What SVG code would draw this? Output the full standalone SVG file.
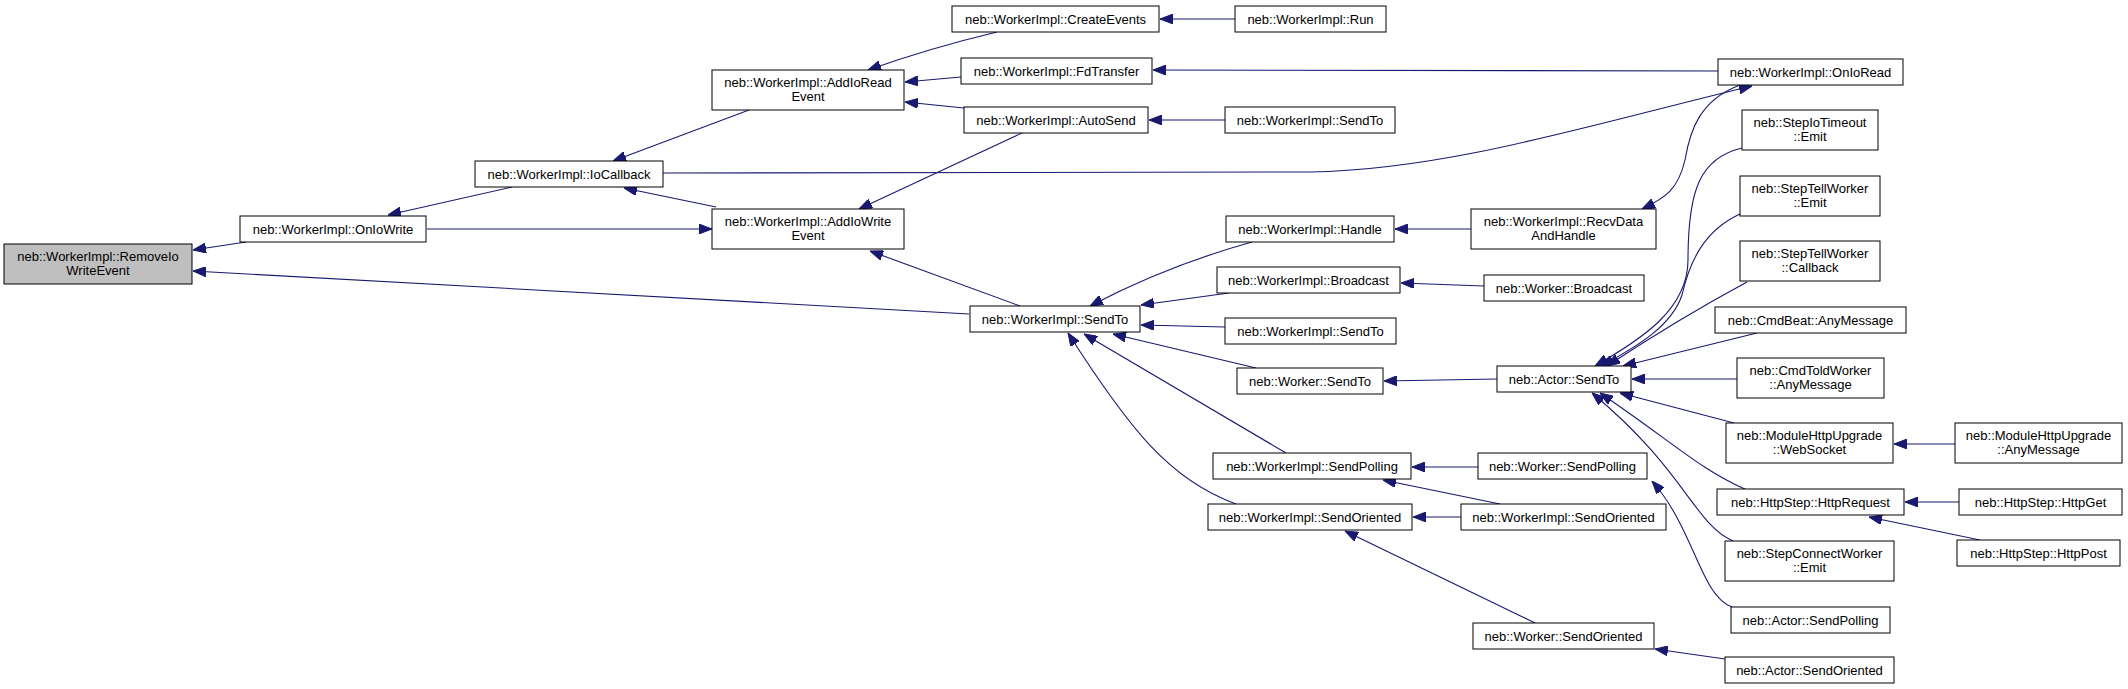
<svg xmlns="http://www.w3.org/2000/svg" width="2128" height="689" viewBox="0 0 2128 689">
<style>
rect{fill:#fff;stroke:#000;stroke-width:1}
.root rect{fill:#bfbfbf}
text{font-family:"Liberation Sans",Arial,sans-serif;font-size:13px;text-anchor:middle;fill:#000}
#edges path{fill:none;stroke:#191970;stroke-width:1.1;marker-end:url(#ah)}
</style>
<defs>
<marker id="ah" markerUnits="userSpaceOnUse" viewBox="0 0 13 10" refX="13" refY="5" markerWidth="13" markerHeight="10" orient="auto"><path d="M0,0 L13,5 L0,10 z" fill="#191970" stroke="#191970"/></marker>
</defs>
<g id="edges">
<path d="M246,242 L193,250"/>
<path d="M512,187 L388,215"/>
<path d="M716,207 L624,188"/>
<path d="M427,229 L712,229"/>
<path d="M749,110 L613,161"/>
<path d="M997,32 Q930,48 868,70"/>
<path d="M1235,19 L1160,19"/>
<path d="M961,77 L905,82"/>
<path d="M964,108 L905,102"/>
<path d="M1225,120 L1149,120"/>
<path d="M1718,71 L1153,70"/>
<path d="M1024,132 L859,209"/>
<path d="M663,173 L1310,172 C1450,170 1600,122 1752,86"/>
<path d="M1740,85 C1700,100 1690,130 1685,160 C1678,190 1665,198 1642,209"/>
<path d="M969,314 L193,271"/>
<path d="M1020,306 L870,251"/>
<path d="M1252,242 C1180,262 1130,285 1090,306"/>
<path d="M1229,293 L1141,305"/>
<path d="M1225,327 L1141,325"/>
<path d="M1256,368 L1113,334"/>
<path d="M1286,453 L1084,334"/>
<path d="M1236,504 C1170,480 1130,430 1068,333"/>
<path d="M1535,623 L1345,531"/>
<path d="M1471,229 L1395,229"/>
<path d="M1484,286 L1401,283"/>
<path d="M1497,379 L1384,381"/>
<path d="M1478,467 L1412,467"/>
<path d="M1500,504 L1383,480"/>
<path d="M1461,517 L1413,517"/>
<path d="M1725,659 L1655,649"/>
<path d="M1732,607 C1700,595 1695,530 1652,481"/>
<path d="M1742,148 C1700,158 1688,190 1688,260 C1688,310 1640,340 1595,366"/>
<path d="M1740,214 C1705,230 1690,260 1682,295 C1672,325 1640,345 1601,366"/>
<path d="M1747,282 Q1680,318 1607,366"/>
<path d="M1757,333 L1623,366"/>
<path d="M1737,379 L1632,379"/>
<path d="M1734,423 L1620,393"/>
<path d="M1747,490 C1700,470 1670,440 1600,393"/>
<path d="M1733,541 C1695,525 1685,470 1592,393"/>
<path d="M1955,444 L1894,444"/>
<path d="M1959,502 L1905,502"/>
<path d="M1980,540 L1869,517"/>
</g>
<g id="n0" class="root"><rect x="4" y="244" width="188" height="40"/><text x="98" y="261">neb::WorkerImpl::RemoveIo</text><text x="98" y="275">WriteEvent</text></g>
<g id="n1"><rect x="240" y="216" width="186" height="26"/><text x="333" y="233.5">neb::WorkerImpl::OnIoWrite</text></g>
<g id="n2"><rect x="475" y="161" width="188" height="26"/><text x="569" y="178.5">neb::WorkerImpl::IoCallback</text></g>
<g id="n3"><rect x="712" y="70" width="192" height="40"/><text x="808" y="87">neb::WorkerImpl::AddIoRead</text><text x="808" y="101">Event</text></g>
<g id="n4"><rect x="712" y="209" width="192" height="40"/><text x="808" y="226">neb::WorkerImpl::AddIoWrite</text><text x="808" y="240">Event</text></g>
<g id="n5"><rect x="952" y="6" width="207" height="26"/><text x="1055.5" y="23.5">neb::WorkerImpl::CreateEvents</text></g>
<g id="n6"><rect x="1235" y="6" width="151" height="26"/><text x="1310.5" y="23.5">neb::WorkerImpl::Run</text></g>
<g id="n7"><rect x="961" y="58" width="191" height="26"/><text x="1056.5" y="75.5">neb::WorkerImpl::FdTransfer</text></g>
<g id="n8"><rect x="964" y="107" width="184" height="26"/><text x="1056" y="124.5">neb::WorkerImpl::AutoSend</text></g>
<g id="n9"><rect x="1225" y="107" width="170" height="26"/><text x="1310" y="124.5">neb::WorkerImpl::SendTo</text></g>
<g id="n10"><rect x="1718" y="59" width="185" height="26"/><text x="1810.5" y="76.5">neb::WorkerImpl::OnIoRead</text></g>
<g id="n11"><rect x="970" y="306" width="170" height="26"/><text x="1055" y="323.5">neb::WorkerImpl::SendTo</text></g>
<g id="n12"><rect x="1226" y="216" width="168" height="26"/><text x="1310" y="233.5">neb::WorkerImpl::Handle</text></g>
<g id="n13"><rect x="1217" y="267" width="183" height="26"/><text x="1308.5" y="284.5">neb::WorkerImpl::Broadcast</text></g>
<g id="n14"><rect x="1225" y="318" width="171" height="26"/><text x="1310.5" y="335.5">neb::WorkerImpl::SendTo</text></g>
<g id="n15"><rect x="1237" y="368" width="146" height="26"/><text x="1310" y="385.5">neb::Worker::SendTo</text></g>
<g id="n16"><rect x="1213" y="453" width="198" height="26"/><text x="1312" y="470.5">neb::WorkerImpl::SendPolling</text></g>
<g id="n17"><rect x="1208" y="504" width="204" height="26"/><text x="1310" y="521.5">neb::WorkerImpl::SendOriented</text></g>
<g id="n18"><rect x="1471" y="209" width="185" height="40"/><text x="1563.5" y="226">neb::WorkerImpl::RecvData</text><text x="1563.5" y="240">AndHandle</text></g>
<g id="n19"><rect x="1484" y="275" width="160" height="26"/><text x="1564" y="292.5">neb::Worker::Broadcast</text></g>
<g id="n20"><rect x="1497" y="366" width="134" height="26"/><text x="1564" y="383.5">neb::Actor::SendTo</text></g>
<g id="n21"><rect x="1478" y="453" width="169" height="26"/><text x="1562.5" y="470.5">neb::Worker::SendPolling</text></g>
<g id="n22"><rect x="1461" y="504" width="205" height="26"/><text x="1563.5" y="521.5">neb::WorkerImpl::SendOriented</text></g>
<g id="n23"><rect x="1473" y="623" width="181" height="26"/><text x="1563.5" y="640.5">neb::Worker::SendOriented</text></g>
<g id="n24"><rect x="1742" y="110" width="136" height="40"/><text x="1810" y="127">neb::StepIoTimeout</text><text x="1810" y="141">::Emit</text></g>
<g id="n25"><rect x="1740" y="176" width="140" height="40"/><text x="1810" y="193">neb::StepTellWorker</text><text x="1810" y="207">::Emit</text></g>
<g id="n26"><rect x="1740" y="241" width="140" height="40"/><text x="1810" y="258">neb::StepTellWorker</text><text x="1810" y="272">::Callback</text></g>
<g id="n27"><rect x="1715" y="307" width="191" height="26"/><text x="1810.5" y="324.5">neb::CmdBeat::AnyMessage</text></g>
<g id="n28"><rect x="1737" y="358" width="147" height="40"/><text x="1810.5" y="375">neb::CmdToldWorker</text><text x="1810.5" y="389">::AnyMessage</text></g>
<g id="n29"><rect x="1726" y="423" width="167" height="40"/><text x="1809.5" y="440">neb::ModuleHttpUpgrade</text><text x="1809.5" y="454">::WebSocket</text></g>
<g id="n30"><rect x="1717" y="489" width="187" height="26"/><text x="1810.5" y="506.5">neb::HttpStep::HttpRequest</text></g>
<g id="n31"><rect x="1725" y="541" width="169" height="40"/><text x="1809.5" y="558">neb::StepConnectWorker</text><text x="1809.5" y="572">::Emit</text></g>
<g id="n32"><rect x="1731" y="607" width="159" height="26"/><text x="1810.5" y="624.5">neb::Actor::SendPolling</text></g>
<g id="n33"><rect x="1725" y="657" width="169" height="26"/><text x="1809.5" y="674.5">neb::Actor::SendOriented</text></g>
<g id="n34"><rect x="1955" y="423" width="167" height="40"/><text x="2038.5" y="440">neb::ModuleHttpUpgrade</text><text x="2038.5" y="454">::AnyMessage</text></g>
<g id="n35"><rect x="1959" y="489" width="163" height="26"/><text x="2040.5" y="506.5">neb::HttpStep::HttpGet</text></g>
<g id="n36"><rect x="1957" y="540" width="163" height="26"/><text x="2038.5" y="557.5">neb::HttpStep::HttpPost</text></g>
</svg>
